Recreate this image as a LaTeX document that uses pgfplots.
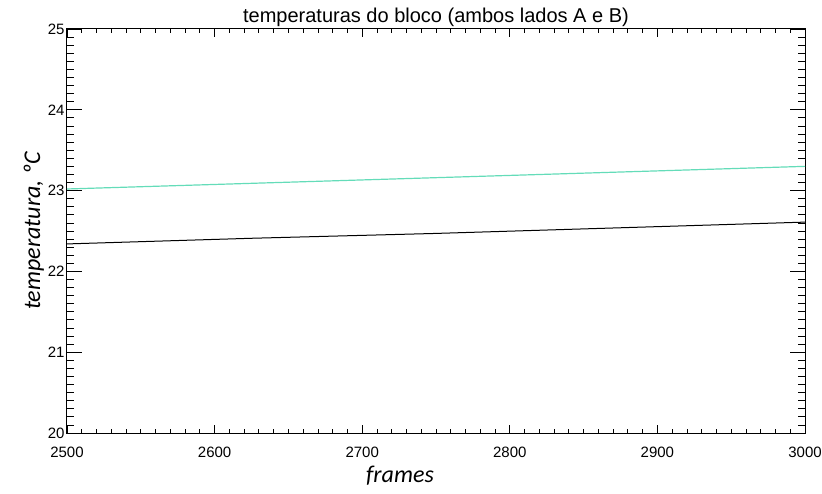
\documentclass[border=0pt]{standalone}
\usepackage{pgfplots}
\pgfplotsset{compat=1.18}
\usepackage{fontspec}
\setmainfont{Liberation Sans}
\newfontfamily\labfont{Carlito}
\definecolor{aqua}{RGB}{100,220,185}
\begin{document}
\begin{tikzpicture}
\useasboundingbox (-67pt,-60pt) rectangle (755pt,433pt);
\begin{axis}[
  at={(0,0)}, anchor=south west,
  scale only axis, width=738pt, height=404pt,
  xmin=2500, xmax=3000, ymin=20, ymax=25,
  xtick={2500,2600,...,3000}, ytick={20,21,...,25},
  minor x tick num=9, minor y tick num=9,
  tick align=inside, ticks=both,
  xtick pos=both, ytick pos=both,
  major tick length=15pt, minor tick length=7pt,
  major x tick style={/pgfplots/major tick length=8pt},
  minor x tick style={/pgfplots/minor tick length=4pt},
  every tick/.style={black, line width=0.8pt},
  axis line style={black, line width=1pt},
  tick label style={font=\fontsize{15}{17}\selectfont},
  /pgf/number format/assume math mode=true,
  /pgf/number format/1000 sep={},
  xticklabel style={yshift=-10pt},
  yticklabel style={xshift=1pt},
  title={temperaturas do bloco (ambos lados A e B)},
  title style={font=\fontsize{20}{22}\selectfont, yshift=-7pt},
  xlabel={\labfont\itshape frames},
  ylabel={\labfont\itshape temperatura, ºC},
  label style={font=\fontsize{24}{26}\selectfont},
  xlabel style={yshift=-2pt, xshift=-36pt},
  ylabel style={yshift=-3pt},
]
\addplot[aqua, line width=1.2pt] coordinates {(2500,23.02) (2625,23.09) (2750,23.16) (2875,23.23) (3000,23.30)};
\addplot[black, line width=1pt] coordinates {(2500,22.34) (2625,22.41) (2750,22.47) (2875,22.54) (3000,22.61)};
\end{axis}
\end{tikzpicture}
\end{document}
